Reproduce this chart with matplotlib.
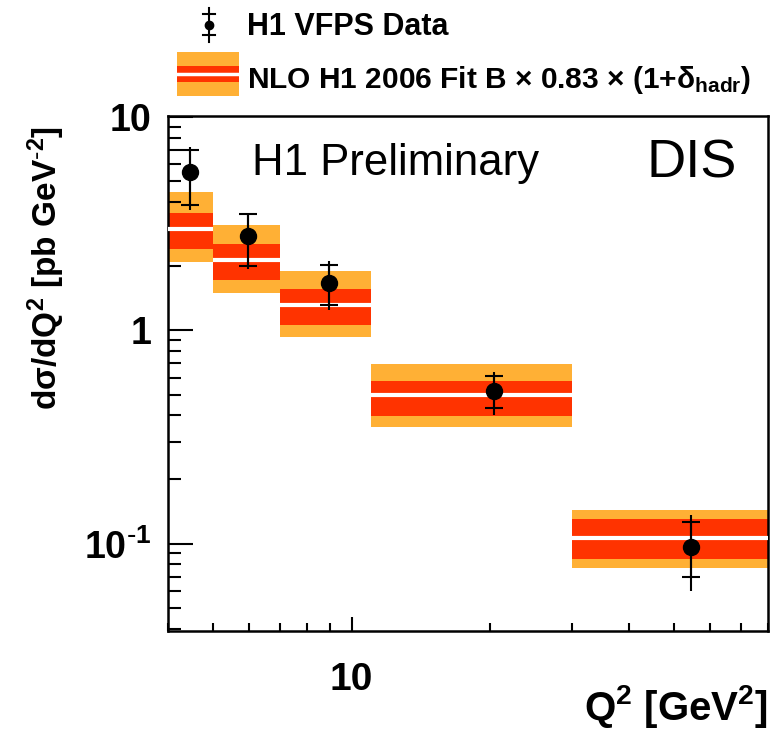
import matplotlib
matplotlib.use("Agg")
import matplotlib.pyplot as plt
from matplotlib.ticker import LogLocator, NullFormatter, FixedLocator, FixedFormatter
from matplotlib.patches import Rectangle
from matplotlib.lines import Line2D
import numpy as np

plt.rcParams['font.family'] = ['Liberation Sans', 'DejaVu Sans']
plt.rcParams['mathtext.default'] = 'regular'

# Q2 bins and VFPS data points
q2_lo = [4, 5, 7, 11, 30]
q2_hi = [5, 7, 11, 30, 80]
q2_pts = [4.46, 5.96, 8.95, 20.4, 54.5]
xsec = [5.5, 2.76, 1.67, 0.518, 0.097]
stat_up = [1.5, 0.74, 0.35, 0.090, 0.029]
stat_dn = [1.63, 0.75, 0.36, 0.085, 0.027]
tot_up = [1.7, 0.79, 0.44, 0.118, 0.040]
tot_dn = [1.82, 0.83, 0.43, 0.118, 0.037]

# NLO prediction with inner (red) and outer (orange) uncertainty bands
nlo = [2.99, 2.13, 1.31, 0.495, 0.106]
nlo_in_hi = [3.55, 2.54, 1.56, 0.577, 0.1305]
nlo_in_lo = [2.41, 1.73, 1.055, 0.395, 0.0848]
nlo_out_hi = [4.44, 3.13, 1.89, 0.696, 0.1443]
nlo_out_lo = [2.08, 1.50, 0.931, 0.352, 0.0769]

orange = '#ffb035'
red = '#ff3300'

W, H = 775, 733
fig = plt.figure(figsize=(W / 100, H / 100), dpi=100)
ax = fig.add_axes([168 / W, 1 - 631 / H, 600 / W, 515 / H])
ax.set_xscale('log')
ax.set_yscale('log')

widths = np.subtract(q2_hi, q2_lo)
ax.bar(q2_lo, np.subtract(nlo_out_hi, nlo_out_lo), width=widths, bottom=nlo_out_lo,
       align='edge', color=orange, lw=0, zorder=1)
ax.bar(q2_lo, np.subtract(nlo_in_hi, nlo_in_lo), width=widths, bottom=nlo_in_lo,
       align='edge', color=red, lw=0, zorder=2)
ax.hlines(nlo, q2_lo, q2_hi, color='white', lw=3, zorder=3)

ax.errorbar(q2_pts, xsec, yerr=[tot_dn, tot_up], fmt='none', ecolor='black',
            elinewidth=1.5, zorder=4)
ax.errorbar(q2_pts, xsec, yerr=[stat_dn, stat_up], fmt='o', color='black',
            ms=11.5, elinewidth=1.5, capsize=6.8, capthick=1.5, zorder=5)

ax.set_xlim(4, 80)
ax.set_ylim(0.039, 10.1)

ax.yaxis.set_major_locator(FixedLocator([0.1, 1, 10]))
ax.yaxis.set_major_formatter(FixedFormatter(['10$^{\\text{-}1}$', '1', '10']))
ax.yaxis.set_minor_locator(LogLocator(base=10, subs=np.arange(2, 10), numticks=20))
ax.yaxis.set_minor_formatter(NullFormatter())
ax.xaxis.set_major_locator(FixedLocator([10]))
ax.xaxis.set_major_formatter(FixedFormatter(['10']))
ax.xaxis.set_minor_locator(LogLocator(base=10, subs=np.arange(2, 10), numticks=20))
ax.xaxis.set_minor_formatter(NullFormatter())

ax.tick_params(axis='y', which='major', direction='in', length=18, width=1.5, pad=12,
               labelsize=27)
ax.tick_params(axis='y', which='minor', direction='in', length=9, width=1.5)
ax.tick_params(axis='x', which='major', direction='in', length=10, width=1.5, pad=22,
               labelsize=28)
ax.tick_params(axis='x', which='minor', direction='in', length=6, width=1.5)
for lab in ax.get_xticklabels() + ax.get_yticklabels():
    lab.set_fontweight('bold')
for sp in ax.spines.values():
    sp.set_linewidth(1.8)

fig.text(46 / W, 1 - 268 / H, 'd\u03c3/dQ$^{2}$ [pb GeV$^{\\text{-}2}$]', rotation=90,
         ha='center', va='center', fontsize=24, fontweight='bold')
fig.text(768 / W, 1 - 720 / H, 'Q$^{2}$ [GeV$^{2}$]', ha='right', va='baseline',
         fontsize=29, fontweight='bold')

fig.text(252 / W, 1 - 175 / H, 'H1 Preliminary', ha='left', va='baseline', fontsize=31.5)
fig.text(737 / W, 1 - 177 / H, 'DIS', ha='right', va='baseline', fontsize=39)

# legend drawn in figure pixel space above the axes
lax = fig.add_axes([0, 0, 1, 1])
lax.set_xlim(0, W)
lax.set_ylim(H, 0)
lax.axis('off')
lax.add_patch(Rectangle((177, 52), 62, 44, color=orange, lw=0))
lax.add_patch(Rectangle((177, 66), 62, 16, color=red, lw=0))
lax.add_line(Line2D([177, 239], [74, 74], color='white', lw=2.5))
lax.add_line(Line2D([209, 209], [8, 42], color='black', lw=1.5))
lax.add_line(Line2D([203, 215], [14, 14], color='black', lw=1.5))
lax.add_line(Line2D([203, 215], [35, 35], color='black', lw=1.5))
lax.add_line(Line2D([209], [25], marker='o', ms=6, color='black'))
lax.text(247, 35, 'H1 VFPS Data', ha='left', va='baseline', fontsize=22,
         fontweight='bold')
lax.text(247, 88, 'NLO H1 2006 Fit B $\\times$ 0.83 $\\times$ (1+$\\delta_{hadr}$)',
         ha='left', va='baseline', fontsize=21.5, fontweight='bold')

fig.savefig('out.png', dpi=100)
